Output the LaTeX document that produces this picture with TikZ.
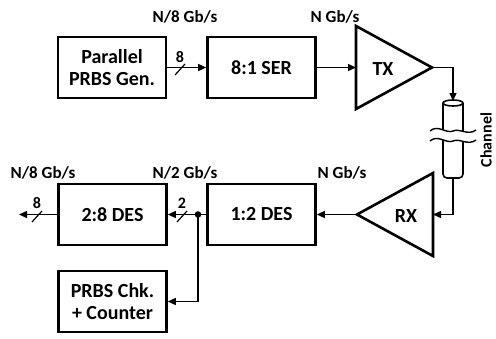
\documentclass[tikz,border=0pt]{standalone}
\usepackage{fontspec}
\setmainfont{Carlito}
\usetikzlibrary{arrows.meta}
\begin{document}
\begin{tikzpicture}[x=1pt,y=-1pt,
  blk/.style={draw,line width=2.6pt,minimum width=108pt,minimum height=61pt,inner sep=0pt,align=center,font=\fontsize{20}{21.5}\selectfont\bfseries},
  amp/.style={line width=2.6pt,line join=miter},
  wire/.style={line width=1.4pt},
  arr/.style={wire,-{Triangle[length=8pt,width=7pt]}},
  rate/.style={font=\fontsize{17}{17}\selectfont\bfseries,inner sep=0pt},
  busn/.style={font=\fontsize{16}{16}\selectfont\bfseries,inner sep=0pt},
  slash/.style={line width=1.2pt}]
\useasboundingbox (0,0) rectangle (496,338);
% blocks
\node[blk] (gen) at (112,67.5) {Parallel\\PRBS Gen.};
\node[blk] (ser) at (261.5,67.5) {8:1 SER};
\node[blk] (des12) at (261.5,214.5) {1:2 DES};
\node[blk] (des28) at (112.5,214.5) {2:8 DES};
\node[blk] (chk) at (112.5,301.5) {PRBS Chk.\\+ Counter};
% TX amplifier
\coordinate (txin) at (356,67.5);
\coordinate (txout) at (432,67.5);
\draw[amp] (356,26) -- (txout) -- (356,109) -- cycle;
\node[font=\fontsize{20}{20}\selectfont\bfseries] (tx) at (383,69) {TX};
% RX amplifier
\coordinate (rxin) at (433,214.5);
\coordinate (rxout) at (357,214.5);
\draw[amp] (433,173) -- (rxout) -- (433,256) -- cycle;
\node[font=\fontsize{20}{20}\selectfont\bfseries] (rx) at (406,216) {RX};
% channel
\coordinate (chtop) at (453,101);
\coordinate (chbot) at (453,178);
\draw[line width=1.6pt,rounded corners=4pt] (443,103) -- (443,178) -- (463,178) -- (463,103);
\draw[line width=1.6pt] (453,103) ellipse (10pt and 3pt);
\fill[white] (430,131) .. controls (438,124) and (446,134) .. (453,131) .. controls (460,128) and (468,136) .. (476,130)
  -- (476,140) .. controls (468,146) and (460,138) .. (453,141) .. controls (446,144) and (438,134) .. (430,141) -- cycle;
\draw[line width=1.4pt] (430,131) .. controls (438,124) and (446,134) .. (453,131) .. controls (460,128) and (468,136) .. (476,130);
\draw[line width=1.4pt] (430,141) .. controls (438,134) and (446,144) .. (453,141) .. controls (460,138) and (468,146) .. (476,140);
\node[rotate=90,font=\fontsize{16}{16}\selectfont\bfseries,inner sep=0pt] (chl) at (486,140) {Channel};
% connectors
\draw[arr] (gen.east) -- (ser.west);
\draw[slash] (175,75) -- (185,64);
\node[busn] (b1) at (180,57) {8};
\draw[arr] (ser.east) -- (txin);
\draw[arr] (txout) -| (chtop);
\draw[arr] (chbot) |- (rxin);
\draw[arr] (rxout) -- (des12.east);
\coordinate (dot) at (198,214.5);
\draw[arr] (des12.west) -- (des28.east);
\fill (dot) circle (3.3pt);
\draw[slash] (177,222) -- (187,211);
\node[busn] (b2) at (182,203) {2};
\draw[arr] (dot) |- (chk.east);
\coordinate (outend) at (19,214.5);
\draw[arr] (des28.west) -- (outend);
\draw[slash] (32,222) -- (42,211);
\node[busn] (b3) at (37,203) {8};
% rate labels
\node[rate] (r1) at (185,17) {N/8 Gb/s};
\node[rate] (r2) at (335,17) {N Gb/s};
\node[rate] (r3) at (342,173) {N Gb/s};
\node[rate] (r4) at (185,173) {N/2 Gb/s};
\node[rate] (r5) at (43,173) {N/8 Gb/s};
\end{tikzpicture}
\end{document}
